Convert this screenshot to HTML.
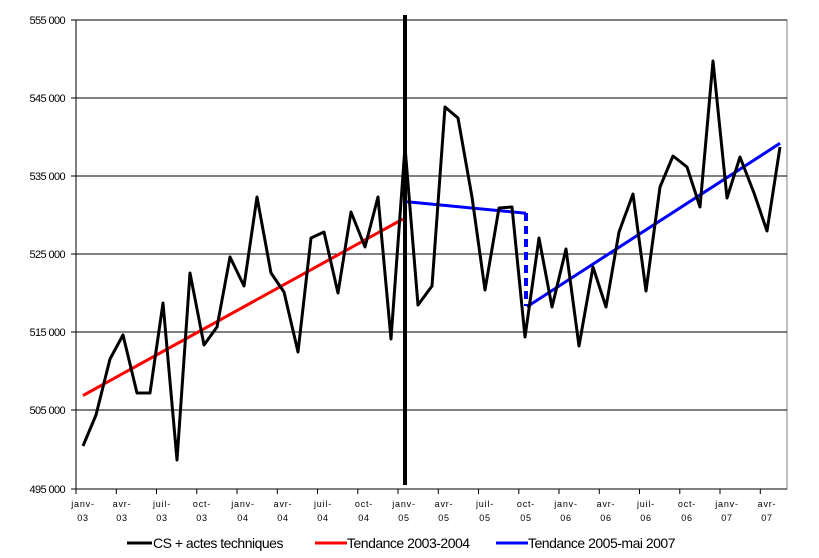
<!DOCTYPE html>
<html><head><meta charset="utf-8"><style>
body{margin:0;background:#fff;}
svg{display:block;font-family:"Liberation Sans",Arial,sans-serif;}
</style></head><body>
<svg width="819" height="558" viewBox="0 0 819 558" xmlns="http://www.w3.org/2000/svg">
<rect width="819" height="558" fill="#fff"/>
<rect x="76" y="20" width="711" height="469" fill="#fff" stroke="#808080" stroke-width="1"/>
<g stroke="#000" stroke-width="1">
<line x1="76" y1="20" x2="787" y2="20"/>
<line x1="76" y1="98" x2="787" y2="98"/>
<line x1="76" y1="176" x2="787" y2="176"/>
<line x1="76" y1="254" x2="787" y2="254"/>
<line x1="76" y1="332" x2="787" y2="332"/>
<line x1="76" y1="410" x2="787" y2="410"/>
<line x1="76" y1="489" x2="787" y2="489"/>
<line x1="76" y1="20" x2="76" y2="489"/>
<line x1="71" y1="20" x2="76" y2="20"/><line x1="71" y1="98" x2="76" y2="98"/><line x1="71" y1="176" x2="76" y2="176"/><line x1="71" y1="254" x2="76" y2="254"/><line x1="71" y1="332" x2="76" y2="332"/><line x1="71" y1="410" x2="76" y2="410"/><line x1="71" y1="489" x2="76" y2="489"/>
</g>
<g stroke="#000" stroke-width="1">
<line x1="76" y1="489" x2="76" y2="494"/><line x1="116.3" y1="489" x2="116.3" y2="494"/><line x1="156.5" y1="489" x2="156.5" y2="494"/><line x1="196.8" y1="489" x2="196.8" y2="494"/><line x1="237" y1="489" x2="237" y2="494"/><line x1="277.3" y1="489" x2="277.3" y2="494"/><line x1="317.5" y1="489" x2="317.5" y2="494"/><line x1="357.8" y1="489" x2="357.8" y2="494"/><line x1="398" y1="489" x2="398" y2="494"/><line x1="438.3" y1="489" x2="438.3" y2="494"/><line x1="478.5" y1="489" x2="478.5" y2="494"/><line x1="518.8" y1="489" x2="518.8" y2="494"/><line x1="559" y1="489" x2="559" y2="494"/><line x1="599.3" y1="489" x2="599.3" y2="494"/><line x1="639.5" y1="489" x2="639.5" y2="494"/><line x1="679.8" y1="489" x2="679.8" y2="494"/><line x1="720" y1="489" x2="720" y2="494"/><line x1="760.3" y1="489" x2="760.3" y2="494"/>
</g>
<g font-size="11" text-anchor="end" fill="#000" letter-spacing="-0.6">
<text x="65" y="24">555 000</text><text x="65" y="102">545 000</text><text x="65" y="180">535 000</text><text x="65" y="258">525 000</text><text x="65" y="336">515 000</text><text x="65" y="414">505 000</text><text x="65" y="493">495 000</text>
</g>
<g font-size="9" text-anchor="middle" fill="#000" letter-spacing="0.8">
<text x="83" y="507">janv-</text><text x="83" y="521">03</text>
<text x="122" y="507">avr-</text><text x="122" y="521">03</text>
<text x="162" y="507">juil-</text><text x="162" y="521">03</text>
<text x="202" y="507">oct-</text><text x="202" y="521">03</text>
<text x="243" y="507">janv-</text><text x="243" y="521">04</text>
<text x="283" y="507">avr-</text><text x="283" y="521">04</text>
<text x="323" y="507">juil-</text><text x="323" y="521">04</text>
<text x="364" y="507">oct-</text><text x="364" y="521">04</text>
<text x="404" y="507">janv-</text><text x="404" y="521">05</text>
<text x="444" y="507">avr-</text><text x="444" y="521">05</text>
<text x="485" y="507">juil-</text><text x="485" y="521">05</text>
<text x="526" y="507">oct-</text><text x="526" y="521">05</text>
<text x="566" y="507">janv-</text><text x="566" y="521">06</text>
<text x="606" y="507">avr-</text><text x="606" y="521">06</text>
<text x="646" y="507">juil-</text><text x="646" y="521">06</text>
<text x="687" y="507">oct-</text><text x="687" y="521">06</text>
<text x="727" y="507">janv-</text><text x="727" y="521">07</text>
<text x="767" y="507">avr-</text><text x="767" y="521">07</text>
</g>
<line x1="405" y1="15" x2="405" y2="485" stroke="#000" stroke-width="4"/>
<polyline fill="none" stroke="#f00" stroke-width="3" points="83,395.5 403,219"/>
<polyline fill="none" stroke="#00f" stroke-width="3" points="407,201.7 526,213.3"/>
<line x1="526" y1="213" x2="526" y2="306" stroke="#00f" stroke-width="4" stroke-dasharray="8,5"/>
<polyline fill="none" stroke="#00f" stroke-width="3" points="527,306.7 780,143.3"/>
<polyline fill="none" stroke="#000" stroke-width="3" stroke-linejoin="round" points="83,446 96,415 110,359 123,335 137,393 150,393 163,303 177,460 190,273 204,345 217,327 230,257 244,286 257,197 271,273 284,292 298,352 311,238 324,232 338,293 351,212 365,247 378,197 391,339 405,147 418,305 432,286 445,107 458,118 472,197 485,290 499,208 512,207 525,337 539,238 552,307 566,249 579,346 593,267 606,307 619,232 633,194 646,291 660,187 673,156 687,167 700,207 713,61 727,198 740,157 754,193 767,231 780,147"/>
<g font-size="14" fill="#000" letter-spacing="-0.5">
<line x1="127" y1="543" x2="152" y2="543" stroke="#000" stroke-width="3"/>
<text x="153" y="548">CS + actes techniques</text>
<line x1="315" y1="543" x2="347" y2="543" stroke="#f00" stroke-width="3"/>
<text x="347" y="548">Tendance 2003-2004</text>
<line x1="496" y1="543" x2="528" y2="543" stroke="#00f" stroke-width="3"/>
<text x="528" y="548">Tendance 2005-mai 2007</text>
</g>
</svg>
</body></html>
